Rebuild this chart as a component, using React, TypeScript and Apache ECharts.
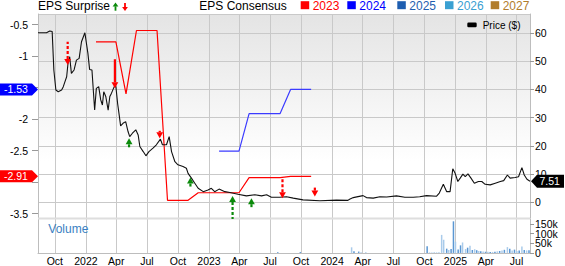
import React, { useEffect, useRef } from "react";
import * as echarts from "echarts";

// ---------- data ----------
const axisStart = "2021-08-12";
const axisEnd = "2025-08-10";

const priceDates = [
  "2021-08-12","2021-09-06","2021-09-16","2021-09-23","2021-09-28","2021-10-04","2021-10-11","2021-10-21","2021-10-26","2021-10-31",
  "2021-11-05","2021-11-09","2021-11-14","2021-11-19","2021-11-27","2021-12-04","2021-12-12","2021-12-19","2021-12-29","2022-01-07",
  "2022-01-12","2022-01-19","2022-01-27","2022-02-01","2022-02-08","2022-02-14","2022-02-19","2022-02-23","2022-03-01","2022-03-08",
  "2022-03-13","2022-03-18","2022-03-26","2022-03-31","2022-04-05","2022-04-09","2022-04-14","2022-04-21","2022-04-29","2022-05-06",
  "2022-05-11","2022-05-19","2022-05-29","2022-06-05","2022-06-10","2022-06-20","2022-06-28","2022-07-07","2022-07-19","2022-07-29",
  "2022-08-10","2022-08-16","2022-08-28","2022-09-05","2022-09-12","2022-09-22","2022-10-01","2022-10-16","2022-10-26","2022-10-31",
  "2022-11-10","2022-11-20","2022-11-30","2022-12-15","2022-12-29","2023-01-08","2023-01-18","2023-01-31","2023-02-17","2023-03-04",
  "2023-03-28","2023-04-22","2023-05-17","2023-06-06","2023-06-21","2023-07-05","2023-07-30","2023-08-19","2023-09-08","2023-10-07",
  "2023-11-26","2024-01-14","2024-02-17","2024-02-22","2024-03-04","2024-03-18","2024-04-02","2024-04-12","2024-05-02","2024-05-22",
  "2024-06-11","2024-07-10","2024-08-04","2024-08-29","2024-09-17","2024-10-07","2024-11-06","2024-11-14","2024-11-26","2024-12-06",
  "2024-12-16","2024-12-24","2024-12-31","2025-01-08","2025-01-15","2025-01-23","2025-01-30","2025-02-07","2025-02-16","2025-02-26",
  "2025-03-10","2025-03-20","2025-03-30","2025-04-14","2025-04-29","2025-05-14","2025-05-24","2025-06-04","2025-06-12","2025-06-27",
  "2025-07-07","2025-07-17","2025-07-24","2025-08-01","2025-08-10"
];
const priceValues = [
  60.1,60.1,60.7,60.5,46.9,39.8,39.2,39.8,41,42.8,
  44.5,49.3,51.6,45.7,46.9,50.4,51,56.9,60.1,52.8,
  47.1,46.9,32.7,40.4,41,36.3,34.5,39.2,37.5,32.7,
  37.5,38.7,41,41,35.1,31.6,27.1,28,28.6,25.1,
  23.3,24.5,25.7,23.9,19.8,18,16.5,18,19.2,20.4,
  22.4,20.4,20.4,23.3,18,14.4,13.3,12.7,12.1,10.3,
  8.6,6.8,5,3.8,4.4,5,3.8,4.7,3.8,3.5,
  2.9,2.3,2.7,2.3,2.7,1.8,1.8,2,1.5,0.9,
  0.6,0.8,0.7,1.1,1.7,2.05,2.4,1.7,1.5,2,
  1.9,2.3,1.8,1.8,2,2.4,2.2,3.3,6.4,3.8,
  3.8,11.9,10.3,7.4,8.6,10,9.1,10.1,8.6,6.8,
  7.4,7.4,6.4,6.2,6.8,7.4,7.7,9.7,8.6,8.8,
  9.1,12.3,9.7,8.2,7.51
];

const eps2023Dates = [
  "2022-01-31","2022-02-28","2022-03-31","2022-04-30","2022-05-31","2022-06-30","2022-07-31","2022-08-31","2022-09-30","2022-10-31",
  "2022-11-30","2022-12-31","2023-01-31","2023-02-28","2023-03-31","2023-04-30","2023-05-31","2023-06-30","2023-07-31","2023-08-31",
  "2023-09-30","2023-10-31"
];
const eps2023Values = [
  -0.775,-0.775,-0.775,-1.6,-0.595,-0.595,-0.595,-3.29,-3.29,-3.29,
  -3.17,-3.17,-3.17,-3.17,-3.17,-2.93,-2.93,-2.93,-2.93,-2.91,
  -2.91,-2.91
];
const eps2024Dates = [
  "2023-01-31","2023-02-28","2023-03-31","2023-04-30","2023-05-31","2023-06-30","2023-07-31","2023-08-31","2023-09-30","2023-10-31"
];
const eps2024Values = [-2.51,-2.51,-2.51,-1.913,-1.913,-1.913,-1.913,-1.53,-1.53,-1.53];

const surpriseDates = ["2021-11-08","2022-03-28","2022-05-09","2022-08-08","2022-11-07","2023-03-12","2023-05-07","2023-08-07","2023-11-11"];
const surpriseTipPrice = [48.7,40.4,22.7,22.7,8.8,2.3,1.5,1.5,2.05];
const surpriseBeat = [false,false,true,false,true,true,true,false,false];
const surpriseMagnitude = [5.7,7.7,1,0.5,1,5.7,1,4.7,1];
const surpriseOffScale = [true,false,false,false,false,true,false,true,false];

const volumeDates = [
  "2023-07-24","2023-09-29","2024-02-28","2024-03-06","2024-03-20","2024-03-27","2024-04-10","2024-10-09","2024-10-16","2024-10-23",
  "2024-10-30","2024-11-06","2024-11-13","2024-11-21","2024-11-27","2024-12-06","2024-12-12","2024-12-19","2024-12-26","2025-01-01",
  "2025-01-09","2025-01-16","2025-01-22","2025-01-31","2025-02-06","2025-02-13","2025-02-20","2025-02-27","2025-03-05","2025-03-11",
  "2025-03-17","2025-03-24","2025-03-31","2025-04-07","2025-04-14","2025-04-21","2025-04-28","2025-05-05","2025-05-12","2025-05-19",
  "2025-05-26","2025-06-04","2025-06-11","2025-06-18","2025-06-25","2025-07-02","2025-07-09","2025-07-17","2025-07-24","2025-07-31",
  "2025-08-07"
];
const volumeValues = [
  3000,5000,29000,8000,7000,3000,3000,34000,3000,2000,
  3000,3000,4000,93000,68000,22000,15000,20000,163000,58000,
  18000,39000,54000,20000,27000,37000,15000,19000,14000,10000,
  8000,7000,6000,6000,5000,5000,6000,8000,10000,12000,
  16000,30000,21000,12000,17000,10000,12000,33000,15000,13000,
  14000
];
const volumeUp = [
  0,0,1,0,0,1,1,0,1,1,
  1,1,1,1,1,0,1,0,0,1,
  0,0,1,1,0,1,0,1,0,1,
  0,1,0,1,0,1,0,1,0,1,
  0,1,0,1,0,1,0,1,0,1,
  0
];

const consensusYears = ["2023","2024","2025","2026","2027"];
const monthNames = ["Jan","Feb","Mar","Apr","May","Jun","Jul","Aug","Sep","Oct","Nov","Dec"];

// ---------- helpers ----------
const DAY = 86400000;
const toUTC = (s: string) => {
  const [y, m, d] = s.split("-").map(Number);
  return Date.UTC(y, m - 1, d);
};
const dayIndex = (s: string) => Math.round((toUTC(s) - toUTC(axisStart)) / DAY);
const buildCategories = () => {
  const out: string[] = [];
  for (let t = toUTC(axisStart); t <= toUTC(axisEnd); t += DAY) out.push(new Date(t).toISOString().slice(0, 10));
  return out;
};
const isQuarterStart = (_i: number, v: string) => {
  const m = v.slice(5, 7);
  return v.slice(8, 10) === "01" && (m === "01" || m === "04" || m === "07" || m === "10");
};
const dateLabel = (v: string) => (v.slice(5, 7) === "01" ? v.slice(0, 4) : monthNames[Number(v.slice(5, 7)) - 1]);

const FONT = "'Liberation Sans', Arial, Helvetica, sans-serif";
const GRID_C = "#c9c9c9";
const AXIS_C = "#bdbdbd";
const yearColors = ["#ff0000", "#0000ff", "#1e5eb0", "#3aa0d2", "#b17d2c"];

export default function App() {
  const ref = useRef<HTMLDivElement>(null);
  useEffect(() => {
    if (!ref.current) return;
    const chart = echarts.init(ref.current, undefined, { renderer: "svg" });
    const cats = buildCategories();
    const L = 38, R = 530, T = 14, B1 = 218, T2 = 219, B2 = 254;

    const lastRed = eps2023Values[eps2023Values.length - 1];
    const lastBlue = eps2024Values[eps2024Values.length - 1];
    const lastPrice = priceValues[priceValues.length - 1];

    const priceData = priceDates.map((d, i) => [dayIndex(d), priceValues[i]]);
    const eps23 = eps2023Dates.map((d, i) => [dayIndex(d), eps2023Values[i]]);
    const eps24 = eps2024Dates.map((d, i) => [dayIndex(d), eps2024Values[i]]);
    const surprise = surpriseDates.map((d, i) => [
      dayIndex(d), surpriseTipPrice[i], surpriseMagnitude[i], surpriseBeat[i] ? 1 : -1, surpriseOffScale[i] ? 1 : 0,
    ]);
    const volume = volumeDates.map((d, i) => ({
      value: [dayIndex(d), volumeValues[i]],
      itemStyle: { color: volumeUp[i] ? "#a9cbea" : "#5b97d3" },
    }));

    const labelStyle = { fontSize: 10.5, color: "#000", fontFamily: FONT };
    // EPS labels hidden where the last-value tags cover them
    const epsLabel = (v: number) =>
      Math.abs(v - lastRed) < 0.25 || Math.abs(v - lastBlue) < 0.25 ? "" : String(v);

    const option: any = {
      animation: false,
      backgroundColor: "#ffffff",
      textStyle: { fontFamily: FONT },
      grid: [
        {
          left: L, top: T, width: R - L, height: B1 - T, show: true, borderWidth: 0,
          backgroundColor: new echarts.graphic.LinearGradient(0, 0, 0, 1, [
            { offset: 0, color: "#e4e4e4" },
            { offset: 0.72, color: "#ffffff" },
            { offset: 1, color: "#ffffff" },
          ]),
        },
        { left: L, top: T2, width: R - L, height: B2 - T2 },
      ],
      xAxis: [
        {
          type: "category", gridIndex: 0, data: cats, boundaryGap: false,
          axisLine: { show: false }, axisTick: { show: false, interval: isQuarterStart },
          axisLabel: { show: false, interval: isQuarterStart },
          splitLine: { show: true, interval: isQuarterStart, lineStyle: { color: GRID_C, width: 1 } },
        },
        {
          type: "category", gridIndex: 1, data: cats, boundaryGap: false,
          axisLine: { show: true, lineStyle: { color: AXIS_C } },
          axisTick: { show: false, interval: isQuarterStart },
          axisLabel: { ...labelStyle, show: true, interval: isQuarterStart, formatter: dateLabel, margin: 2 },
          splitLine: { show: true, interval: isQuarterStart, lineStyle: { color: GRID_C, width: 1 } },
        },
      ],
      yAxis: [
        {
          type: "value", gridIndex: 0, position: "left", min: -3.571, max: -0.333,
          splitLine: { show: false },
          axisLine: { show: true, lineStyle: { color: AXIS_C } },
          axisTick: { show: true, length: 6, lineStyle: { color: "#999" } },
          axisLabel: { ...labelStyle, margin: 10, showMinLabel: false, showMaxLabel: false, formatter: epsLabel },
        },
        {
          type: "value", gridIndex: 0, position: "right", min: -5.53, max: 66.73,
          splitLine: { show: true, lineStyle: { color: GRID_C } },
          axisLine: { show: true, lineStyle: { color: AXIS_C } },
          axisTick: { show: true, length: 4, lineStyle: { color: "#999" } },
          axisLabel: { ...labelStyle, margin: 5, showMinLabel: false, showMaxLabel: false },
        },
        {
          type: "value", gridIndex: 1, position: "right", min: -400, max: 175000, splitNumber: 3,
          splitLine: { show: false },
          axisLine: { show: true, lineStyle: { color: AXIS_C } },
          axisTick: { show: true, length: 4, lineStyle: { color: "#999" } },
          axisLabel: {
            ...labelStyle, margin: 5, showMinLabel: false, showMaxLabel: false,
            formatter: (v: number) => (v < 0 ? "" : v === 0 ? "0" : v / 1000 + "k"),
          },
        },
        {
          type: "value", gridIndex: 1, position: "left", min: -400, max: 175000,
          splitLine: { show: false }, axisTick: { show: false }, axisLabel: { show: false },
          axisLine: { show: true, lineStyle: { color: AXIS_C } },
        },
      ],
      series: [
        {
          type: "bar", name: "Volume", xAxisIndex: 1, yAxisIndex: 2, data: volume, barWidth: 1.5, z: 2,
        },
        {
          type: "line", name: "2023", xAxisIndex: 0, yAxisIndex: 0, data: eps23, symbol: "none",
          lineStyle: { color: yearColors[0], width: 1.2 }, z: 3,
        },
        {
          type: "line", name: "2024", xAxisIndex: 0, yAxisIndex: 0, data: eps24, symbol: "none",
          lineStyle: { color: "#3b3bff", width: 1.2 }, z: 3,
        },
        {
          type: "line", name: "Price ($)", xAxisIndex: 0, yAxisIndex: 1, data: priceData, symbol: "none",
          lineStyle: { color: "#111111", width: 1.1 }, z: 4,
        },
        {
          type: "custom", name: "EPS Surprise", xAxisIndex: 0, yAxisIndex: 1, data: surprise, clip: false, z: 6,
          encode: { x: 0, y: 1 },
          renderItem: (_p: any, api: any) => {
            const pt = api.coord([api.value(0), api.value(1)]);
            const len = 6 + 3 * api.value(2);
            const up = api.value(3) > 0;
            const dashed = api.value(4) > 0;
            const color = up ? "#0b8a0b" : "#ff0000";
            const s = up ? 1 : -1;
            const head = 6, hw = 3.4;
            const x = pt[0], y = pt[1];
            const base = y + s * head;
            const end = y + s * len;
            return {
              type: "group",
              children: [
                {
                  type: "line",
                  shape: { x1: x, y1: base, x2: x, y2: end },
                  style: { stroke: color, lineWidth: 2.2, lineDash: dashed ? [3, 2] : null },
                },
                {
                  type: "polygon",
                  shape: { points: [[x, y], [x - hw, base], [x + hw, base]] },
                  style: { fill: color },
                },
              ],
            };
          },
        },
      ],
    };
    chart.setOption(option);

    // annotation tags for last values
    const yRed = chart.convertToPixel({ yAxisIndex: 0 }, lastRed) as number;
    const yBlue = chart.convertToPixel({ yAxisIndex: 0 }, lastBlue) as number;
    const yPrice = chart.convertToPixel({ yAxisIndex: 1 }, lastPrice) as number;
    const leftTag = (y: number, color: string, txt: string) => [
      { type: "polygon", shape: { points: [[0, y - 6], [32, y - 6], [38, y], [32, y + 6], [0, y + 6]] }, style: { fill: color }, z: 100 },
      { type: "text", x: 4, y, style: { text: txt, fill: "#fff", fontSize: 10.5, fontFamily: FONT, verticalAlign: "middle", align: "left" }, z: 101 },
    ];
    const rightTag = (y: number, txt: string) => [
      { type: "polygon", shape: { points: [[531, y], [537, y - 6.5], [564, y - 6.5], [564, y + 6.5], [537, y + 6.5]] }, style: { fill: "#000" }, z: 100 },
      { type: "text", x: 539.5, y, style: { text: txt, fill: "#fff", fontSize: 10.5, fontFamily: FONT, verticalAlign: "middle", align: "left" }, z: 101 },
    ];

    const legendX = [300.7, 347.3, 397.3, 445, 490.7];
    const legendItems: any[] = [];
    consensusYears.forEach((yr, i) => {
      legendItems.push({ type: "rect", shape: { x: legendX[i], y: 1.2, width: 8.5, height: 8 }, style: { fill: yearColors[i] } });
      legendItems.push({
        type: "text", x: legendX[i] + 12, y: 6.2,
        style: { text: yr, fill: yearColors[i], fontSize: 12, fontFamily: FONT, verticalAlign: "middle" },
      });
    });

    chart.setOption({
      graphic: [
        { type: "rect", shape: { x: L, y: B1 - 0.5, width: R - L, height: 2 }, style: { fill: "#dedede" }, z: 1 },
        { type: "text", x: 38, y: 6.4, style: { text: "EPS Surprise", fill: "#000", fontSize: 12, fontFamily: FONT, verticalAlign: "middle" } },
        { type: "polygon", shape: { points: [[115.5, 2.5], [112.6, 6.5], [118.4, 6.5]] }, style: { fill: "#0b8a0b" } },
        { type: "rect", shape: { x: 114.6, y: 6.3, width: 1.8, height: 4.4 }, style: { fill: "#0b8a0b" } },
        { type: "polygon", shape: { points: [[125, 11], [122.1, 7], [127.9, 7]] }, style: { fill: "#ff0000" } },
        { type: "rect", shape: { x: 124.1, y: 3, width: 1.8, height: 4.2 }, style: { fill: "#ff0000" } },
        { type: "text", x: 199.3, y: 6.4, style: { text: "EPS Consensus", fill: "#000", fontSize: 12, fontFamily: FONT, verticalAlign: "middle" } },
        ...legendItems,
        { type: "rect", shape: { x: 467.3, y: 22.5, width: 9.4, height: 4.8, r: 1.2 }, style: { fill: "#000" }, z: 50 },
        { type: "text", x: 482.7, y: 25.2, style: { text: "Price ($)", fill: "#000", fontSize: 10, fontFamily: FONT, verticalAlign: "middle" }, z: 50 },
        { type: "text", x: 48.3, y: 228.6, style: { text: "Volume", fill: "#3a7fc2", fontSize: 12, fontFamily: FONT, verticalAlign: "middle" } },
        ...leftTag(yBlue, "#0000ff", lastBlue.toFixed(2)),
        ...leftTag(yRed, "#ff0000", lastRed.toFixed(2)),
        ...rightTag(yPrice, lastPrice.toFixed(2)),
      ],
    });

    return () => chart.dispose();
  }, []);

  return <div ref={ref} style={{ position: "fixed", left: 0, top: 0, width: 565, height: 266 }} />;
}
